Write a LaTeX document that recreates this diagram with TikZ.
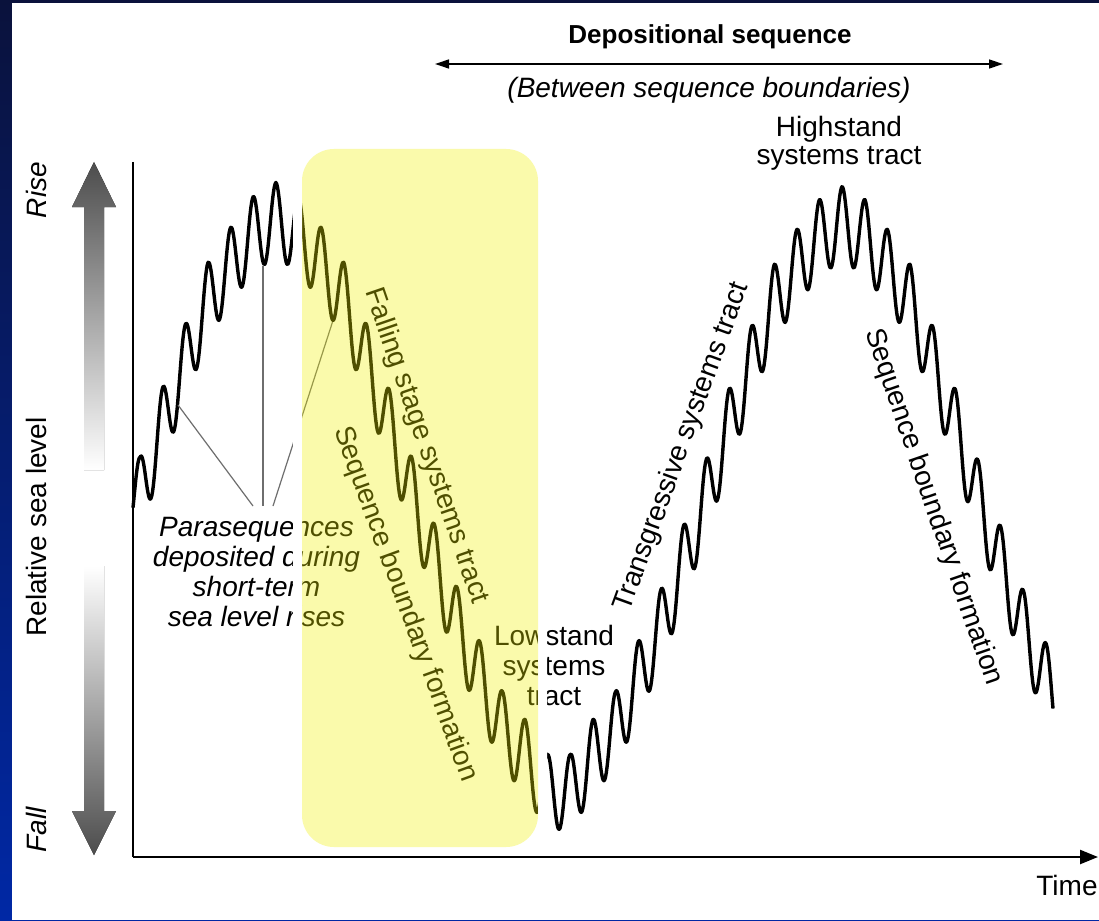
\documentclass[tikz,border=0pt]{standalone}
\usepackage{fontspec}
\setmainfont{Liberation Sans}
\usetikzlibrary{arrows.meta}
\definecolor{navytop}{RGB}{10,18,60}
\definecolor{navybot}{RGB}{0,40,165}
\definecolor{hlyellow}{RGB}{240,240,0}
\definecolor{leadgray}{RGB}{110,110,110}
\newcommand{\lblfont}{\fontsize{28}{30}\selectfont}
\tikzset{
  lbl/.style={font=\lblfont, inner sep=0pt},
  curve/.style={line width=3.4pt, line join=round},
  leader/.style={leadgray, line width=1.2pt},
  axisline/.style={line width=1.6pt},
}
\begin{document}
\begin{tikzpicture}[x=1pt,y=-1pt]
\useasboundingbox (0,0) rectangle (1099,920);
% slide background
\fill[top color=navytop, bottom color=navybot] (0,0) rectangle (1099,920);
\fill[white] (12,3.5) rectangle (1099,920);

% relative sea level double arrow (two shaded halves)
\fill[top color=black!70, bottom color=white] (84,470) -- (84,207) -- (72,207) -- (94,162) -- (116,207) -- (104,207) -- (104,470) -- cycle;
\fill[top color=white, bottom color=black!70] (84,566) -- (84,811) -- (72,811) -- (94,855) -- (116,811) -- (104,811) -- (104,566) -- cycle;
\node[lbl, rotate=90] (rise) at (36,190) {\itshape Rise};
\node[lbl, rotate=90] (rsl) at (36,527) {Relative sea level};
\node[lbl, rotate=90] (fall) at (36,830) {\itshape Fall};

% axes
\coordinate (O) at (133,857);
\coordinate (ytop) at (133,162);
\coordinate (xend) at (1098,857);
\draw[axisline] (ytop) -- (O);
\draw[line width=2.4pt, -{Triangle[length=18pt,width=14pt]}] (O) -- (xend);
\node[lbl] (time) at (1067,885) {Time};

% sea level curve
\draw[curve] (133,507.6)
  foreach \xa/\ta/\xb/\tb in {
    133/494/140/495, 140/495/162.65/425, 162.65/425/185.3/362, 185.3/362/207.95/300,
    207.95/300/230.6/265, 230.6/265/253.25/234, 253.25/234/275.9/220, 275.9/220/298.55/234,
    298.55/234/321.2/265, 321.2/265/343.85/300, 343.85/300/366.5/362, 366.5/362/389.15/427,
    389.15/427/411.8/495, 411.8/495/434.45/562, 434.45/562/457.1/625, 457.1/625/479.75/679,
    479.75/679/502.4/729, 502.4/729/525.05/757, 525.05/757/547.7/792, 547.7/792/570.35/792,
    570.35/792/593/757, 593/757/615.65/729, 615.65/729/638.3/679, 638.3/679/660.95/627,
    660.95/627/683.6/563, 683.6/563/706.25/497, 706.25/497/728.9/427, 728.9/427/751.55/364,
    751.55/364/774.2/302, 774.2/302/796.85/267, 796.85/267/819.5/237, 819.5/237/842.15/224,
    842.15/224/864.8/237, 864.8/237/887.45/267, 887.45/267/910.1/302, 910.1/302/932.75/364,
    932.75/364/955.4/427, 955.4/427/978.05/498, 978.05/498/1000.7/564, 1000.7/564/1023.35/628,
    1023.35/628/1046/681, 1046/681/1053/695}
  { -- plot[domain=\xa:\xb, samples=30, variable=\xx]
      (\xx,{\ta+(\tb-\ta)*(\xx-\xa)/(\xb-\xa)-37.5*cos(15.894*(\xx-140))}) };

% top labels
\node[lbl, font=\fontsize{26}{28}\selectfont\bfseries] (dep) at (710,37) {Depositional sequence};
\coordinate (dl) at (435,64);
\coordinate (dr) at (1003,64);
\draw[line width=1.3pt, {Triangle[length=14pt,width=9pt]}-{Triangle[length=14pt,width=9pt]}] (dl) -- (dr);
\node[lbl] (btw) at (709,90) {\itshape (Between sequence boundaries)};

% systems tract labels
\node[lbl, align=center, font=\fontsize{28}{28}\selectfont] (hst) at (839,143) {Highstand\\systems tract};
\node[lbl, rotate=70] (tst) at (682,447) {Transgressive systems tract};
\node[lbl, rotate=-71] (sbf2) at (933,507) {Sequence boundary formation};
\node[lbl, rotate=-71] (fsst) at (426,446) {Falling stage systems tract};
\node[lbl, rotate=-70] (sbf1) at (405,604) {Sequence boundary formation};
\node[lbl, align=center] (lst) at (554,665) {Lowstand\\systems\\tract};
\node[lbl, align=center, font=\lblfont\itshape] (para) at (256.5,572) {Parasequences\\deposited during\\short-term\\sea level rises};

% leader lines
\coordinate (c1) at (178,405);
\coordinate (c2) at (263,266);
\coordinate (c3) at (332.5,322);
\coordinate (e1) at (253,506);
\coordinate (e2) at (263,506);
\coordinate (e3) at (273,506);
\draw[leader] (c1) -- (e1);
\draw[leader] (c2) -- (e2);
\draw[leader] (c3) -- (e3);

% highlighted falling-stage box
\draw[white, line width=9pt, rounded corners=36pt] (297.5,144.5) rectangle (542.5,850.5);
\fill[hlyellow, fill opacity=0.33, rounded corners=32pt] (302,149) rectangle (538,847);
\end{tikzpicture}
\end{document}
